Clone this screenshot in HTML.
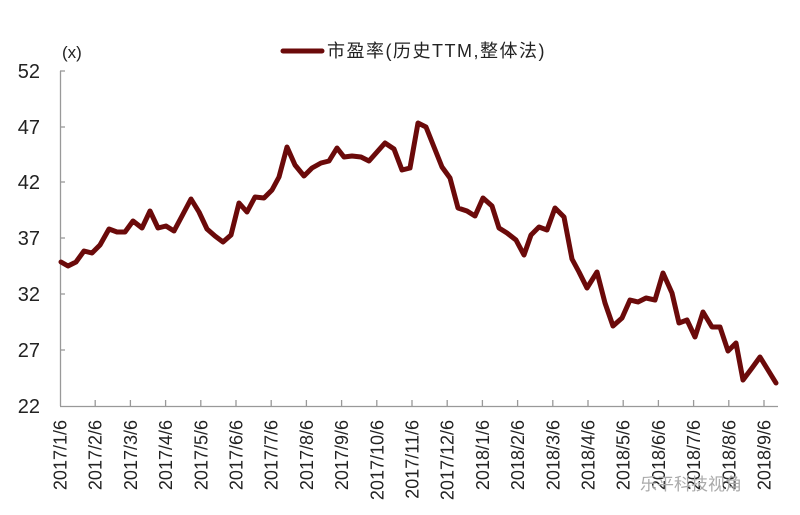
<!DOCTYPE html>
<html><head><meta charset="utf-8"><style>
html,body{margin:0;padding:0;background:#fff;}
svg{display:block;}
text{font-family:"Liberation Sans","Noto Sans CJK SC",sans-serif;fill:#222;}
</style></head><body>
<svg width="800" height="515" viewBox="0 0 800 515" xmlns="http://www.w3.org/2000/svg">
<rect width="800" height="515" fill="#fff"/>
<g stroke="#999" stroke-width="1.3" fill="none">
<line x1="60.5" y1="71" x2="60.5" y2="406"/>
<line x1="60" y1="406.5" x2="778" y2="406.5"/>
<line x1="60" y1="71" x2="65" y2="71"/><line x1="60" y1="127" x2="65" y2="127"/><line x1="60" y1="182" x2="65" y2="182"/><line x1="60" y1="238" x2="65" y2="238"/><line x1="60" y1="294" x2="65" y2="294"/><line x1="60" y1="350" x2="65" y2="350"/>
<path d="M95.2 400V406M130.4 400V406M165.6 400V406M200.8 400V406M236 400V406M271.2 400V406M306.4 400V406M341.6 400V406M376.8 400V406M412 400V406M447.2 400V406M482.4 400V406M517.6 400V406M552.8 400V406M588 400V406M623.2 400V406M658.4 400V406M693.6 400V406M728.8 400V406M764 400V406"/>
</g>
<g font-size="20" text-anchor="end">
<text x="40" y="78">52</text><text x="40" y="134">47</text><text x="40" y="189">42</text><text x="40" y="245">37</text><text x="40" y="301">32</text><text x="40" y="357">27</text><text x="40" y="413">22</text>
</g>
<text x="62" y="58" font-size="17">(x)</text>
<line x1="283" y1="51" x2="322" y2="51" stroke="#6b0a0a" stroke-width="5" stroke-linecap="round"/>
<text x="327" y="57" font-size="18" letter-spacing="1.5">市盈率(历史TTM,整体法)</text>
<polyline fill="none" stroke="#6b0a0a" stroke-width="5" stroke-linejoin="round" stroke-linecap="round" points="61,262 68,266 76,262 84,251 92,253 100,245 109,229 117,232 125,232 133,221 142,228 150,211 158,228 166,226 174,231 182,216 191,199 199,212 207,229 215,236 223,242 231,235 239,203 247,212 255,197 264,198 272,190 279,177 287,147 295,165 304,176 312,168 321,163 329,161 337,148 344,157 352,156 361,157 369,161 377,152 385,143 394,149 402,170 410,168 418,123 426,127 434,147 442,167 450,178 458,208 467,211 475,216 483,198 492,206 499,228 507,233 516,240 524,255 531,235 539,227 547,230 555,208 564,217 572,259 579,272 587,288 597,272 605,303 613,326 622,318 630,300 638,302 646,298 655,300 663,273 672,293 679,323 687,320 695,337 703,312 712,327 720,327 728,351 736,343 743,380 752,368 760,357 768,370 776,383"/>
<g font-size="18" text-anchor="end">
<text transform="translate(66.5,420) rotate(-90)">2017/1/6</text>
<text transform="translate(101.7,420) rotate(-90)">2017/2/6</text>
<text transform="translate(136.9,420) rotate(-90)">2017/3/6</text>
<text transform="translate(172.1,420) rotate(-90)">2017/4/6</text>
<text transform="translate(207.3,420) rotate(-90)">2017/5/6</text>
<text transform="translate(242.5,420) rotate(-90)">2017/6/6</text>
<text transform="translate(277.7,420) rotate(-90)">2017/7/6</text>
<text transform="translate(312.9,420) rotate(-90)">2017/8/6</text>
<text transform="translate(348.1,420) rotate(-90)">2017/9/6</text>
<text transform="translate(383.3,420) rotate(-90)">2017/10/6</text>
<text transform="translate(418.5,420) rotate(-90)">2017/11/6</text>
<text transform="translate(453.7,420) rotate(-90)">2017/12/6</text>
<text transform="translate(488.9,420) rotate(-90)">2018/1/6</text>
<text transform="translate(524.1,420) rotate(-90)">2018/2/6</text>
<text transform="translate(559.3,420) rotate(-90)">2018/3/6</text>
<text transform="translate(594.5,420) rotate(-90)">2018/4/6</text>
<text transform="translate(629.7,420) rotate(-90)">2018/5/6</text>
<text transform="translate(664.9,420) rotate(-90)">2018/6/6</text>
<text transform="translate(700.1,420) rotate(-90)">2018/7/6</text>
<text transform="translate(735.3,420) rotate(-90)">2018/8/6</text>
<text transform="translate(770.5,420) rotate(-90)">2018/9/6</text>
</g>
<text x="640" y="490" font-size="17" style="fill:#aaa">乐平科技视角</text>
</svg>
</body></html>
